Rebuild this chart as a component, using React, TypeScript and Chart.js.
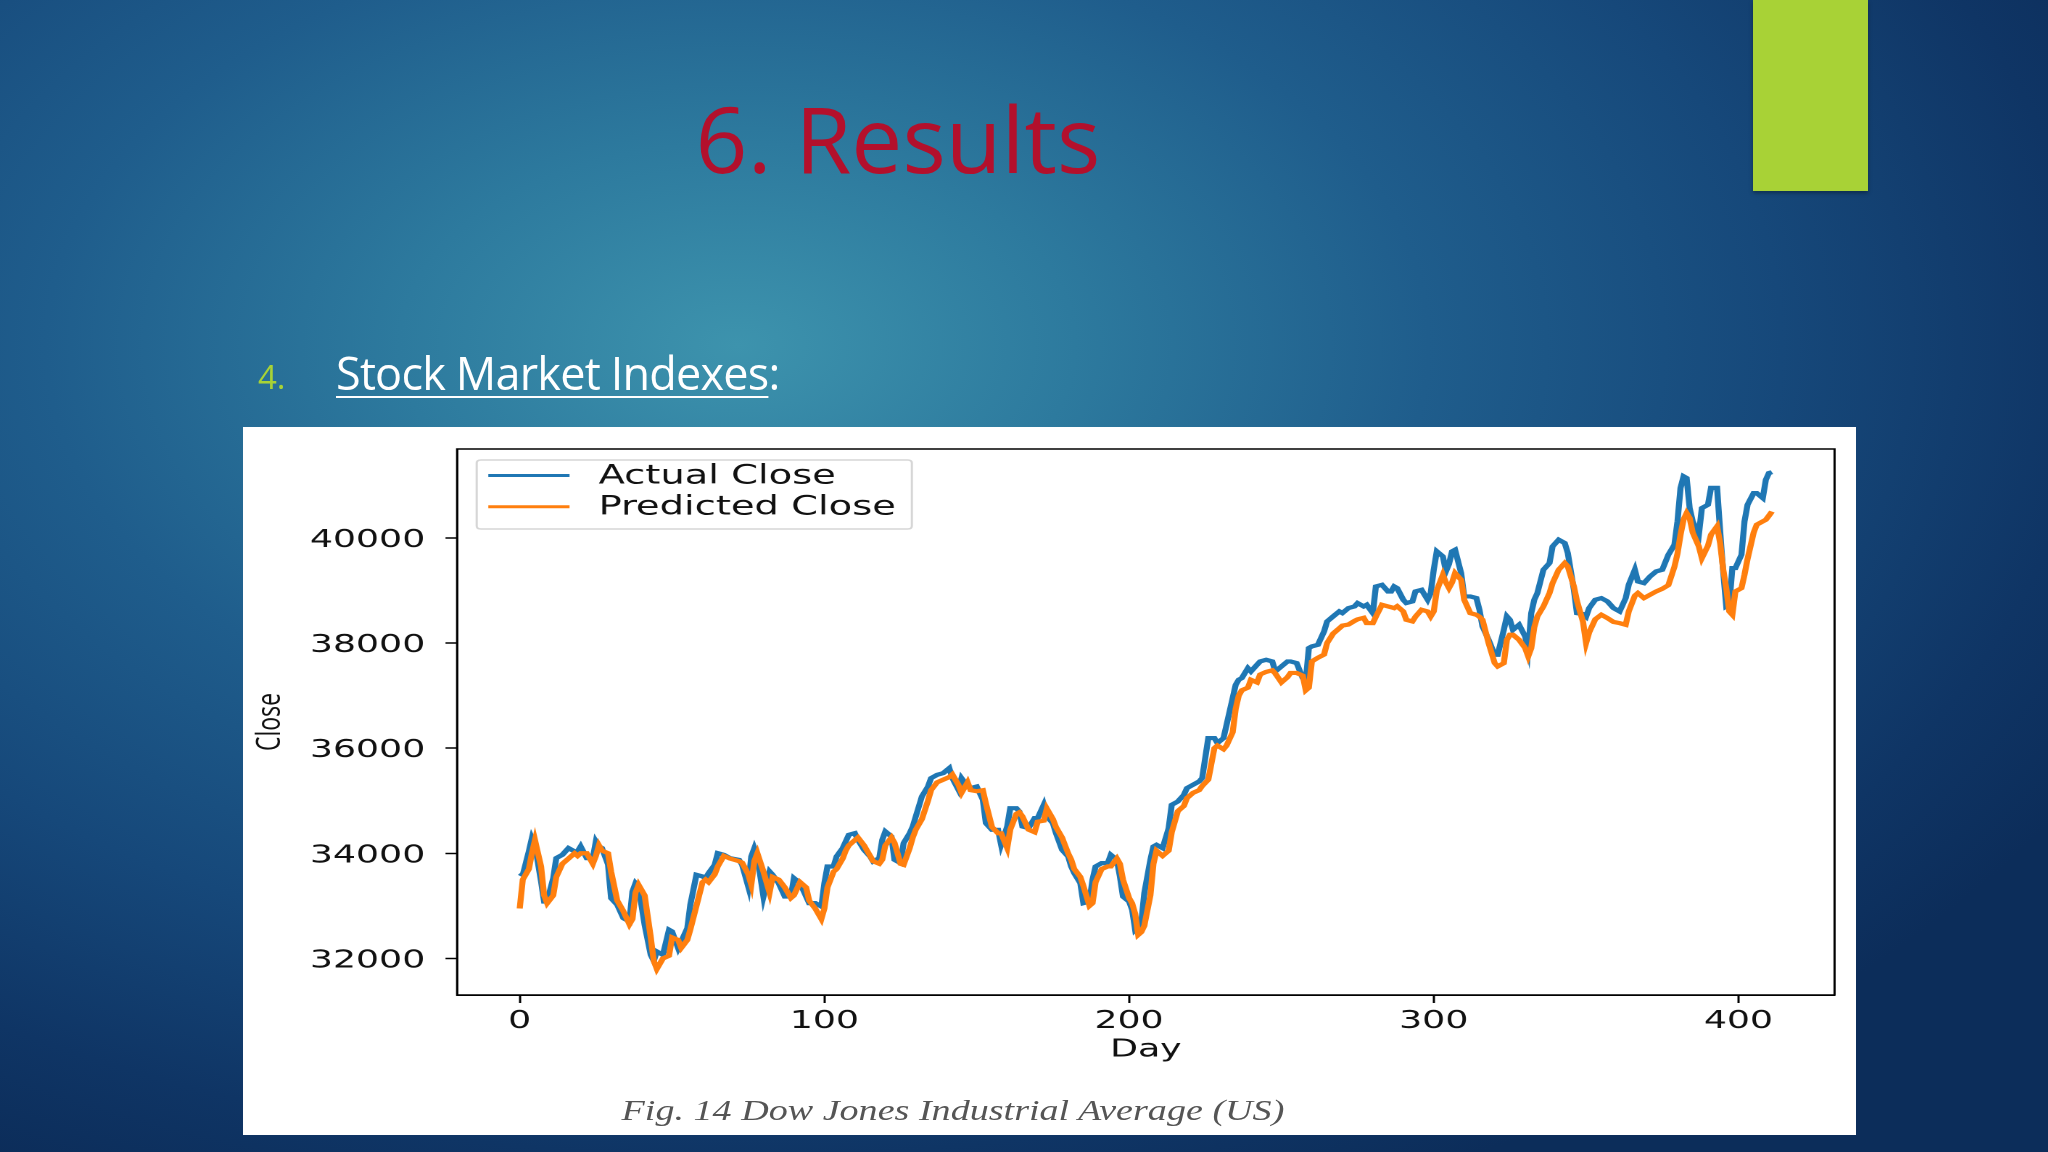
import React, { useEffect, useRef } from 'react';
import { Chart, registerables } from 'chart.js';
Chart.register(...registerables);

const days = [0,1,3,4,5,7,8,9,11,12,14,16,18,19,20,22,24,25,26,27,29,30,32,34,36,37,38,39,41,43,44,45,47,49,50,52,53,55,56,58,60,61,62,64,65,67,69,72,73,75,76,77,78,80,82,83,85,87,89,90,92,94,95,97,99,100,101,103,104,106,107,108,110,111,113,115,116,118,119,120,122,123,125,126,128,129,130,132,134,135,137,139,141,142,144,145,147,148,150,152,153,155,157,158,160,161,163,164,165,167,169,170,172,173,175,176,178,180,181,182,184,185,187,188,189,191,193,194,196,197,198,200,201,202,203,204,205,207,208,209,211,213,214,216,218,219,221,223,224,226,228,229,231,232,234,235,236,237,239,240,242,243,245,247,248,250,252,253,255,257,258,259,260,262,264,265,267,269,270,272,274,275,277,278,280,281,283,285,286,287,288,290,291,293,294,296,298,299,300,301,303,304,305,306,307,309,310,312,314,315,316,318,320,321,323,324,325,326,328,330,331,332,333,334,336,338,339,341,343,344,346,347,349,350,351,353,355,357,359,361,363,364,366,367,369,371,373,375,377,379,380,381,382,383,384,385,387,388,390,391,393,394,395,396,397,398,399,401,402,403,405,406,408,409,410,411];

const actualClose = [33620,33590,34035,34288,34160,33464,33083,33083,33527,33908,33971,34098,34035,34035,34130,33908,33908,34225,34130,34098,33781,33146,33020,32766,32702,33273,33432,33368,32639,32068,31950,32132,32068,32544,32512,32195,32322,32576,33020,33590,33559,33527,33622,33781,34003,33971,33907,33875,33780,33368,33939,34097,33939,33177,33653,33590,33431,33178,33178,33526,33431,33178,33051,33051,32987,33431,33748,33748,33939,34097,34224,34351,34382,34256,34066,33939,33844,33907,34256,34414,34319,33875,33812,34192,34382,34509,34700,35080,35270,35429,35492,35524,35619,35429,35207,35429,35270,35239,35270,35017,34573,34446,34446,34161,34509,34858,34858,34795,34509,34478,34668,34668,34922,34700,34573,34382,34066,33939,33748,33622,33431,33051,33082,33495,33748,33812,33812,33970,33875,33558,33178,33082,32924,32543,32600,32670,33241,33875,34129,34161,34098,34478,34922,34985,35112,35239,35303,35366,35430,36191,36191,36096,36191,36444,36952,37205,37301,37332,37522,37459,37586,37649,37681,37649,37459,37554,37649,37649,37618,37332,37269,37903,37935,37966,38220,38410,38506,38601,38569,38664,38696,38759,38696,38727,38568,39076,39107,38980,38980,39076,39044,38822,38759,38790,38980,39012,38822,38949,39393,39742,39646,39361,39500,39742,39773,39329,38885,38885,38854,38632,38315,38061,37776,37776,38251,38505,38441,38251,38346,38124,37871,38568,38822,38949,39393,39520,39837,39964,39900,39710,39012,38568,38550,38500,38664,38822,38854,38791,38664,38600,38854,39108,39393,39171,39139,39266,39361,39393,39678,39869,40313,40947,41169,41137,40566,40313,40059,40566,40630,40950,40950,40122,39361,38695,38727,39425,39425,39678,40313,40630,40852,40852,40757,41105,41232,41250];

const predictedClose = [32950,33500,33700,34000,34250,33750,33200,33050,33200,33550,33800,33900,34000,33950,34000,34000,33800,33950,34150,34050,34000,33650,33100,32900,32650,32750,33250,33400,33200,32400,31950,31800,32000,32050,32400,32350,32200,32350,32550,33000,33450,33500,33450,33600,33750,33950,33900,33850,33820,33600,33400,33850,34000,33650,33250,33550,33500,33350,33150,33200,33450,33350,33100,32950,32750,32950,33350,33650,33700,33900,34050,34150,34250,34300,34150,33950,33850,33800,33880,34150,34300,34200,33800,33780,34100,34300,34450,34650,35000,35200,35350,35400,35450,35500,35300,35150,35350,35200,35180,35200,34950,34500,34380,34380,34100,34450,34750,34780,34700,34450,34400,34600,34620,34850,34650,34500,34300,34000,33880,33700,33550,33380,33000,33050,33450,33700,33750,33750,33900,33800,33500,33150,33050,32850,32450,32500,32620,33200,33800,34050,33950,34050,34400,34800,34900,35050,35150,35200,35280,35400,36000,36050,35980,36050,36300,36750,37000,37100,37150,37300,37250,37400,37450,37480,37420,37250,37350,37430,37430,37380,37100,37150,37650,37720,37780,38000,38180,38280,38330,38350,38420,38450,38480,38380,38378,38500,38727,38695,38680,38663,38700,38600,38441,38410,38500,38632,38600,38505,38600,39000,39298,39150,39044,39150,39329,39202,38822,38568,38537,38500,38441,37998,37617,37554,37617,38061,38156,38156,38061,37903,37744,37900,38300,38505,38695,38949,39139,39393,39520,39456,39076,38800,38400,38000,38200,38450,38537,38473,38400,38378,38346,38600,38900,38949,38854,38917,38981,39030,39100,39450,39700,40059,40350,40471,40376,40100,39837,39615,39850,40059,40218,39900,39400,39044,38600,38537,38981,39044,39300,39600,40100,40249,40313,40344,40420,40500];

const xTicks = [0, 100, 200, 300, 400];
const yTicks = [32000, 34000, 36000, 38000, 40000];
const seriesLabels = ['Actual Close', 'Predicted Close'];

const STRETCH = 1613 / 1112;

const framePlugin = {
  id: 'frame',
  afterDatasetsDraw(chart: any) {
    const { ctx, chartArea } = chart;
    const { left, top, right, bottom } = chartArea;
    ctx.save();
    ctx.strokeStyle = '#000';
    ctx.lineWidth = 1.5;
    ctx.strokeRect(left, top, right - left, bottom - top);
    ctx.restore();
  },
};

const legendPlugin = {
  id: 'boxLegend',
  afterDraw(chart: any) {
    const { ctx, chartArea } = chart;
    const bx = chartArea.left + 13.5;
    const by = chartArea.top + 11;
    const bw = 300;
    const bh = 69;
    ctx.save();
    ctx.beginPath();
    const r = 3;
    ctx.moveTo(bx + r, by);
    ctx.lineTo(bx + bw - r, by);
    ctx.quadraticCurveTo(bx + bw, by, bx + bw, by + r);
    ctx.lineTo(bx + bw, by + bh - r);
    ctx.quadraticCurveTo(bx + bw, by + bh, bx + bw - r, by + bh);
    ctx.lineTo(bx + r, by + bh);
    ctx.quadraticCurveTo(bx, by + bh, bx, by + bh - r);
    ctx.lineTo(bx, by + r);
    ctx.quadraticCurveTo(bx, by, bx + r, by);
    ctx.closePath();
    ctx.fillStyle = 'rgba(255,255,255,0.85)';
    ctx.fill();
    ctx.strokeStyle = '#d6d6d6';
    ctx.lineWidth = 1.5;
    ctx.stroke();
    chart.data.datasets.forEach((ds: any, i: number) => {
      const y = by + 15.5 + i * 31.3;
      ctx.beginPath();
      ctx.strokeStyle = ds.borderColor;
      ctx.lineWidth = 3;
      ctx.moveTo(bx + 8, y);
      ctx.lineTo(bx + 64, y);
      ctx.stroke();
      ctx.fillStyle = '#111';
      ctx.font = '26.5px "DejaVu Sans"';
      ctx.textBaseline = 'middle';
      ctx.textAlign = 'left';
      ctx.fillText(ds.label, bx + 84, y + 1);
    });
    ctx.restore();
  },
};

export default function App() {
  const ref = useRef<HTMLCanvasElement>(null);

  useEffect(() => {
    document.body.style.margin = '0';
    const toPts = (vals: number[]) => days.map((d, i) => ({ x: d, y: vals[i] }));
    const tickFont = { family: 'DejaVu Sans', size: 25 };
    const chart = new Chart(ref.current as HTMLCanvasElement, {
      type: 'line',
      data: {
        datasets: [
          {
            label: seriesLabels[0],
            data: toPts(actualClose),
            borderColor: '#1f77b4',
            backgroundColor: '#1f77b4',
            borderWidth: 4.2,
            pointRadius: 0,
            tension: 0,
            order: 1,
          },
          {
            label: seriesLabels[1],
            data: toPts(predictedClose),
            borderColor: '#ff7f0e',
            backgroundColor: '#ff7f0e',
            borderWidth: 4.2,
            pointRadius: 0,
            tension: 0,
            order: 0,
          },
        ],
      },
      options: {
        animation: false,
        responsive: false,
        devicePixelRatio: 2,
        layout: { padding: { left: 0, top: 22, right: 14.8, bottom: 0 } },
        plugins: { legend: { display: false }, tooltip: { enabled: false } },
        scales: {
          x: {
            type: 'linear',
            min: -20.55,
            max: 431.55,
            afterBuildTicks: (s: any) => {
              s.ticks = xTicks.map((v) => ({ value: v }));
            },
            afterFit: (s: any) => {
              s.height = 140;
            },
            ticks: {
              font: tickFont,
              color: '#111',
              padding: 3.5,
              maxRotation: 0,
              autoSkip: false,
              callback: (v: any) => String(v),
            },
            grid: {
              display: true,
              drawOnChartArea: false,
              drawTicks: true,
              tickLength: 8,
              tickWidth: 1.5,
              tickColor: '#000',
            },
            border: { display: true, color: '#000', width: 1.5 },
            title: {
              display: true,
              text: 'Day',
              font: tickFont,
              color: '#111',
              padding: { top: 0, bottom: 70 },
            },
          },
          y: {
            type: 'linear',
            min: 31304,
            max: 41690,
            afterBuildTicks: (s: any) => {
              s.ticks = yTicks.map((v) => ({ value: v }));
            },
            afterFit: (s: any) => {
              s.width = 147.6;
            },
            ticks: {
              font: { family: 'DejaVu Sans', size: 25, lineHeight: 0.5 },
              color: '#111',
              padding: 14,
              labelOffset: 2.5,
              autoSkip: false,
              callback: (v: any) => String(v),
            },
            grid: {
              display: true,
              drawOnChartArea: false,
              drawTicks: true,
              tickLength: 8,
              tickWidth: 1.5,
              tickColor: '#000',
            },
            border: { display: true, color: '#000', width: 1.5 },
            title: {
              display: true,
              text: 'Close',
              font: { family: 'Open Sans', size: 23 },
              color: '#111',
              padding: { top: 5, bottom: 0 },
            },
          },
        },
      },
      plugins: [framePlugin, legendPlugin],
    } as any);
    return () => chart.destroy();
  }, []);

  return (
    <div
      style={{
        position: 'fixed',
        left: 0,
        top: 0,
        width: 2048,
        height: 1152,
        overflow: 'hidden',
        background:
          'radial-gradient(ellipse 75% 80% at 36% 30%, #3d93ad 0%, #2d7a9e 22%, #1f5d8c 45%, #16487a 68%, #0f3565 88%, #0c2d5a 100%)',
        fontFamily: '"Open Sans", sans-serif',
      }}
    >
      <div
        style={{
          position: 'absolute',
          left: 1753,
          top: 0,
          width: 115,
          height: 191,
          background: '#a8d236',
          boxShadow: '0 2px 4px rgba(0,0,0,0.35)',
        }}
      />
      <div
        style={{
          position: 'absolute',
          left: 898,
          top: 93,
          transform: 'translateX(-50%)',
          fontSize: 91,
          lineHeight: 1,
          color: '#b3102c',
          whiteSpace: 'nowrap',
        }}
      >
        6. Results
      </div>
      <div
        style={{
          position: 'absolute',
          left: 258,
          top: 360,
          fontSize: 33,
          lineHeight: 1,
          color: '#a8d236',
          whiteSpace: 'nowrap',
        }}
      >
        4.
      </div>
      <div
        style={{
          position: 'absolute',
          left: 336,
          top: 350,
          fontSize: 45,
          lineHeight: 1,
          letterSpacing: -0.8,
          color: '#ffffff',
          whiteSpace: 'nowrap',
        }}
      >
        <span style={{ textDecoration: 'underline', textDecorationThickness: 2, textUnderlineOffset: 6 }}>
          Stock Market Indexes
        </span>
        :
      </div>
      <div
        style={{
          position: 'absolute',
          left: 243,
          top: 427,
          width: 1613,
          height: 708,
          background: '#ffffff',
          overflow: 'hidden',
        }}
      >
        <div
          style={{
            position: 'absolute',
            left: 0,
            top: 0,
            width: 1112,
            height: 708,
            transform: `scaleX(${STRETCH})`,
            transformOrigin: '0 0',
          }}
        >
          <canvas ref={ref} width={1112} height={708} style={{ width: 1112, height: 708, display: 'block' }} />
        </div>
      </div>
      <div
        style={{
          position: 'absolute',
          left: 0,
          top: 1092,
          width: 1906,
          textAlign: 'center',
          fontFamily: '"Liberation Serif", serif',
          fontStyle: 'italic',
          fontSize: 30,
          lineHeight: '36px',
          color: '#555555',
          whiteSpace: 'nowrap',
        }}
      >
        <span style={{ display: 'inline-block', transform: 'scaleX(1.27)', transformOrigin: '50% 50%' }}>
          Fig. 14 Dow Jones Industrial Average (US)
        </span>
      </div>
    </div>
  );
}
